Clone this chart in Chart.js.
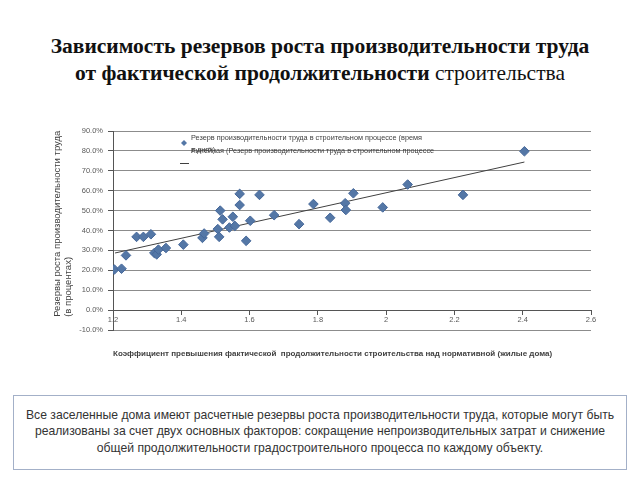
<!DOCTYPE html>
<html>
<head>
<meta charset="utf-8">
<script src="https://cdn.jsdelivr.net/npm/chart.js@4.4.1/dist/chart.umd.min.js"></script>
<style>
  html, body { margin: 0; padding: 0; background: #fff; }
  body { width: 640px; height: 480px; position: relative; overflow: hidden; }
  #title { position: absolute; top: 33px; left: 0; width: 640px; text-align: center;
    font-family: "Liberation Serif", "Times New Roman", serif; font-size: 21.5px; line-height: 27px; color: #111; }
  #title b { font-weight: bold; }
  #wrap { position: absolute; top: 120px; left: 0; width: 640px; height: 250px; }
  #note { position: absolute; left: 13px; top: 395px; width: 614px; height: 75px; box-sizing: border-box;
    border: 1px solid #a3b0c8; padding-top: 10.5px; text-align: center; white-space: nowrap;
    font-family: "Liberation Sans", Arial, sans-serif; font-size: 12.2px; line-height: 16.5px; color: #333; }
</style>
</head>
<body>
<div id="title"><b>Зависимость резервов роста производительности труда</b><br><b>от фактической продолжительности</b> строительства</div>
<div id="wrap"><canvas id="c"></canvas></div>
<div id="note">Все заселенные дома имеют расчетные резервы роста производительности труда, которые могут быть<br>реализованы за счет двух основных факторов: сокращение непроизводительных затрат и снижение<br>общей продолжительности градостроительного процесса по каждому объекту.</div>
<script>
// Coefficient (actual / normative duration)
const coefX = [1.204,1.225,1.238,1.269,1.289,1.311,1.321,1.328,1.333,1.355,1.406,1.462,1.467,1.507,1.511,1.514,1.521,1.541,1.551,1.557,1.571,1.571,1.590,1.602,1.629,1.672,1.745,1.787,1.836,1.880,1.882,1.904,1.990,2.063,2.225,2.405];
// Productivity growth reserve, %
const reserveY = [20.4,20.8,27.5,36.8,36.8,38.1,28.7,28.0,30.4,31.2,32.9,36.3,38.5,40.7,36.8,50.0,45.6,41.5,46.9,42.3,58.4,52.8,34.8,44.9,57.9,47.7,43.2,53.3,46.4,53.7,50.3,58.7,51.6,63.1,57.9,79.8];
// Linear trend line end points
const trendX = [1.206, 2.405];
const trendY = [28.7, 74.4];
const xTicks = [1.2, 1.4, 1.6, 1.8, 2, 2.2, 2.4, 2.6];
const seriesName = 'Резерв производительности труда в строительном процессе (время';
const seriesName2 = 'в днях)';
const trendName = 'Линейная (Резерв производительности труда в строительном процессе';
const xTitle = 'Коэффициент превышения фактической  продолжительности строительства над нормативной (жилые дома)';
const yTitle = ['     Резервы роста производительности труда', '     (в процентах)'];

const scatterPts = coefX.map((x, i) => ({x: x, y: reserveY[i]}));
const trendPts = trendX.map((x, i) => ({x: x, y: trendY[i]}));

const legendPlugin = {
  id: 'innerLegend',
  afterDatasetsDraw(chart) {
    const ctx = chart.ctx;
    const xs = chart.scales.x, ys = chart.scales.y;
    const lx = xs.left + 71, ly = ys.top + 12;
    ctx.save();
    ctx.fillStyle = '#5477a6';
    ctx.beginPath();
    ctx.moveTo(lx, ly - 3); ctx.lineTo(lx + 3, ly); ctx.lineTo(lx, ly + 3); ctx.lineTo(lx - 3, ly);
    ctx.closePath(); ctx.fill();
    ctx.strokeStyle = '#404040'; ctx.lineWidth = 1;
    ctx.beginPath(); ctx.moveTo(lx - 4, ly + 20.5); ctx.lineTo(lx + 5, ly + 20.5); ctx.stroke();
    ctx.fillStyle = '#404040';
    ctx.font = '7.3px "Liberation Sans", Arial, sans-serif';
    ctx.textBaseline = 'middle';
    ctx.fillText(seriesName, lx + 7, ly - 5);
    ctx.fillText(seriesName2, lx + 7, ly + 7);
    ctx.fillText(trendName, lx + 7, ly + 8);
    ctx.restore();
  }
};

new Chart(document.getElementById('c'), {
  type: 'scatter',
  data: {
    datasets: [
      { label: seriesName, data: scatterPts, pointStyle: 'rectRot', pointRadius: 4.8, pointHoverRadius: 4.8,
        backgroundColor: '#5477a6', borderColor: '#46689a', borderWidth: 1, order: 1 },
      { label: trendName, data: trendPts, type: 'line', showLine: true, borderColor: '#404040', borderWidth: 1,
        pointRadius: 0, fill: false, order: 2 }
    ]
  },
  options: {
    responsive: true, maintainAspectRatio: false, animation: false,
    layout: { padding: { top: 11, right: 49, bottom: 40, left: 45 } },
    plugins: { legend: { display: false }, tooltip: { enabled: false } },
    scales: {
      x: {
        type: 'linear', position: { y: 0 }, min: 1.2, max: 2.6,
        afterBuildTicks: (s) => { s.ticks = xTicks.map(v => ({value: v})); },
        ticks: { callback: (v) => String(Number(v.toFixed(1))), color: '#595959', padding: 1,
          font: { size: 7.5, family: '"Liberation Sans", Arial, sans-serif' }, maxRotation: 0, autoSkip: false },
        grid: { drawOnChartArea: false, drawTicks: true, tickLength: 4, color: '#555' },
        border: { color: '#555', width: 1 },
        title: { display: true, text: xTitle, align: 'start', color: '#404040', padding: { top: 24, bottom: 0 },
          font: { size: 8, weight: 'bold', family: '"Liberation Sans", Arial, sans-serif' } }
      },
      y: {
        min: -10, max: 90,
        afterFit: (s) => { s.width = 68; },
        ticks: { stepSize: 10, callback: (v) => v.toFixed(1) + '%', color: '#595959', padding: 5,
          font: { size: 7.5, family: '"Liberation Sans", Arial, sans-serif' } },
        grid: { color: '#8c8c8c', lineWidth: 1, tickLength: 5, tickColor: '#555' },
        border: { color: '#555', width: 1 },
        title: { display: true, text: yTitle, align: 'start', color: '#404040', padding: { top: 6, bottom: 0 },
          font: { size: 9.5, family: '"Liberation Sans", Arial, sans-serif', lineHeight: 1.25 } }
      }
    }
  },
  plugins: [legendPlugin]
});
</script>
</body>
</html>
